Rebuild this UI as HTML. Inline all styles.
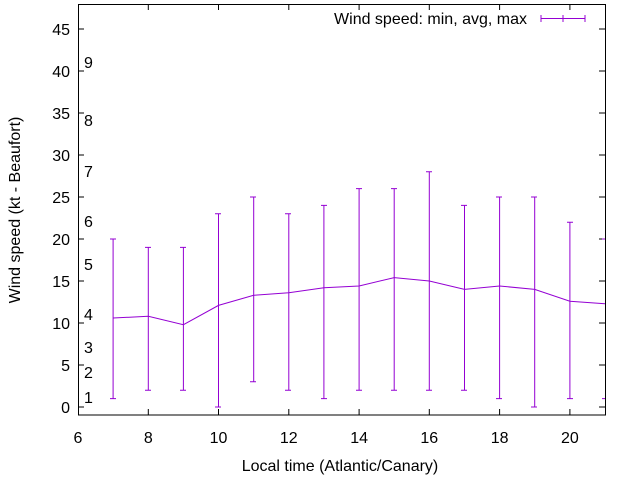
<!DOCTYPE html>
<html><head><meta charset="utf-8"><style>
html,body{margin:0;padding:0;background:#fff;}
svg{display:block;font-family:"Liberation Sans",sans-serif;font-size:16px;}
</style></head><body>
<svg width="640" height="480" viewBox="0 0 640 480">
<g stroke="#000" stroke-width="1" fill="none">
<rect x="78.5" y="4.5" width="527" height="410.5"/>
<path d="M78 407h6M605 407h-6M78 365h6M605 365h-6M78 323h6M605 323h-6M78 281h6M605 281h-6M78 239h6M605 239h-6M78 197h6M605 197h-6M78 155h6M605 155h-6M78 113h6M605 113h-6M78 71h6M605 71h-6M78 29h6M605 29h-6"/>
<path d="M148.3 415v-6M148.3 4v6M218.5 415v-6M218.5 4v6M288.8 415v-6M288.8 4v6M359.1 415v-6M359.1 4v6M429.3 415v-6M429.3 4v6M499.6 415v-6M499.6 4v6M569.9 415v-6M569.9 4v6"/>
</g>
<g fill="#000" text-anchor="end">
<text x="70" y="413">0</text><text x="70" y="371">5</text><text x="70" y="329">10</text><text x="70" y="287">15</text><text x="70" y="245">20</text><text x="70" y="203">25</text><text x="70" y="161">30</text><text x="70" y="119">35</text><text x="70" y="77">40</text><text x="70" y="35">45</text>
</g>
<g fill="#000" text-anchor="middle">
<text x="78" y="443">6</text><text x="148.3" y="443">8</text><text x="218.5" y="443">10</text><text x="288.8" y="443">12</text><text x="359.1" y="443">14</text><text x="429.3" y="443">16</text><text x="499.6" y="443">18</text><text x="569.9" y="443">20</text>
<text x="340" y="471">Local time (Atlantic/Canary)</text>
<text transform="translate(20,210) rotate(-90)">Wind speed (kt - Beaufort)</text>
</g>
<g fill="#000">
<text x="84" y="403">1</text><text x="84" y="378">2</text><text x="84" y="353">3</text><text x="84" y="320">4</text><text x="84" y="270">5</text><text x="84" y="227">6</text><text x="84" y="177">7</text><text x="84" y="126">8</text><text x="84" y="68">9</text>
<text x="527" y="24" text-anchor="end">Wind speed: min, avg, max</text>
</g>
<g stroke="#9400d3" stroke-width="1" fill="none">
<path d="M541 18.5h44M541 15v7M585 15v7M563 15v7"/>
<polyline points="113.1,318 148.3,316.3 183.4,324.7 218.5,305.4 253.7,295.3 288.8,292.8 323.9,287.7 359.1,286 394.2,277.6 429.3,281 464.5,289.4 499.6,286 534.7,289.4 569.9,301.2 605,303.7"/>
<path d="M113.1 398.6V239M148.3 390.2V247.4M183.4 390.2V247.4M218.5 407V213.8M253.7 381.8V197M288.8 390.2V213.8M323.9 398.6V205.4M359.1 390.2V188.6M394.2 390.2V188.6M429.3 390.2V171.8M464.5 390.2V205.4M499.6 398.6V197M534.7 407V197M569.9 398.6V222.2"/>
<path d="M110 398.6h6M110 239h6M145 390.2h6M145 247.4h6M180 390.2h6M180 247.4h6M215 407h6M215 213.8h6M250 381.8h6M250 197h6M285 390.2h6M285 213.8h6M321 398.6h6M321 205.4h6M356 390.2h6M356 188.6h6M391 390.2h6M391 188.6h6M426 390.2h6M426 171.8h6M461 390.2h6M461 205.4h6M496 398.6h6M496 197h6M531 407h6M531 197h6M567 398.6h6M567 222.2h6M602 398.6h3M602 239h3"/>
</g>
</svg>
</body></html>
